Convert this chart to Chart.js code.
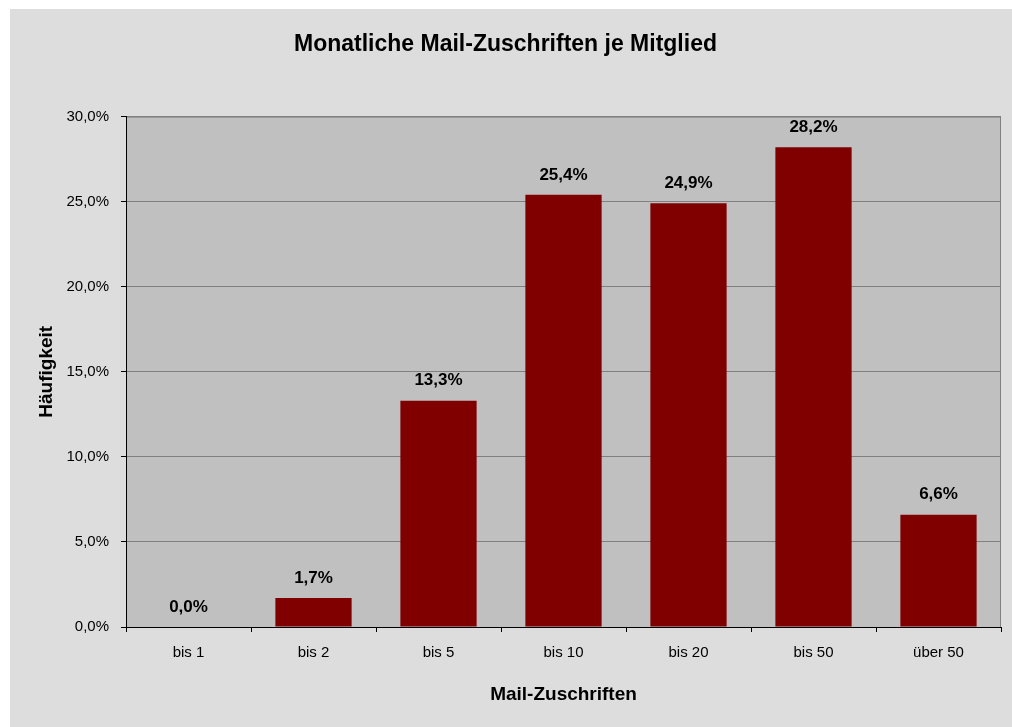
<!DOCTYPE html>
<html>
<head>
<meta charset="utf-8">
<title>Monatliche Mail-Zuschriften je Mitglied</title>
<script src="https://cdn.jsdelivr.net/npm/chart.js@4/dist/chart.umd.min.js"></script>
<style>
  html, body { margin: 0; padding: 0; background: #fff; }
  #wrap { width: 1012px; height: 727px; }
</style>
</head>
<body>
<div id="wrap"><canvas id="chart" width="1012" height="727"></canvas></div>
<script>
// data
const categories = ['bis 1', 'bis 2', 'bis 5', 'bis 10', 'bis 20', 'bis 50', 'über 50'];
const shares = [0.0, 1.7, 13.3, 25.4, 24.9, 28.2, 6.6];
const yTicks = [0, 5, 10, 15, 20, 25, 30];

const FONT = "'Liberation Sans Narrow', 'Arial Narrow', 'Liberation Sans', Arial, sans-serif";
const fmt = v => Number(v).toFixed(1).replace('.', ',') + '%';

// grey frame + plot area
const backdrop = {
  id: 'backdrop',
  beforeDraw(chart) {
    const { ctx, chartArea: a } = chart;
    ctx.save();
    ctx.fillStyle = '#dddddd';
    ctx.fillRect(10, 9, chart.width - 10, chart.height - 9);
    ctx.fillStyle = '#c0c0c0';
    ctx.fillRect(a.left, a.top, a.right - a.left, a.bottom - a.top);
    ctx.strokeStyle = '#808080';
    ctx.lineWidth = 1;
    ctx.strokeRect(a.left + 0.5, a.top + 0.5, a.right - a.left - 1, a.bottom - a.top);
    ctx.restore();
  }
};

// values above the bars
const valueLabels = {
  id: 'valueLabels',
  afterDatasetsDraw(chart) {
    const { ctx } = chart;
    const meta = chart.getDatasetMeta(0);
    ctx.save();
    ctx.font = 'bold 17px ' + FONT;
    ctx.fillStyle = '#000';
    ctx.textAlign = 'center';
    ctx.textBaseline = 'middle';
    meta.data.forEach((bar, i) => {
      ctx.fillText(fmt(shares[i]), bar.x, bar.y - 20);
    });
    ctx.restore();
  }
};

new Chart(document.getElementById('chart'), {
  type: 'bar',
  data: {
    labels: categories,
    datasets: [{
      data: shares,
      backgroundColor: '#800000',
      borderWidth: 0,
      barPercentage: 0.61,
      categoryPercentage: 1
    }]
  },
  options: {
    responsive: false,
    animation: false,
    layout: { padding: { left: 10, top: 9, right: 11, bottom: 0 } },
    plugins: {
      legend: { display: false },
      tooltip: { enabled: false },
      title: {
        display: true,
        text: 'Monatliche Mail-Zuschriften je Mitglied',
        color: '#000',
        font: { family: FONT, size: 23, weight: 'bold' },
        padding: { top: 22, bottom: 58 }
      }
    },
    scales: {
      x: {
        grid: { offset: true, drawOnChartArea: false, tickLength: 5, tickColor: '#000' },
        border: { color: '#000', width: 1 },
        ticks: { color: '#000', padding: 12, font: { family: FONT, size: 15 } },
        title: {
          display: true,
          text: 'Mail-Zuschriften',
          color: '#000',
          font: { family: FONT, size: 19, weight: 'bold' },
          padding: { top: 0, bottom: 21 }
        },
        afterFit(scale) { scale.height = 100; }
      },
      y: {
        min: 0,
        max: 30,
        afterBuildTicks(scale) { scale.ticks = yTicks.map(v => ({ value: v })); },
        grid: { color: '#808080', tickLength: 5, tickColor: '#000' },
        border: { color: '#000', width: 1 },
        ticks: { color: '#000', padding: 12, font: { family: FONT, size: 15 }, callback: v => fmt(v) },
        title: {
          display: true,
          text: 'Häufigkeit',
          color: '#000',
          font: { family: FONT, size: 19, weight: 'bold' },
          padding: { top: 25, bottom: 0 }
        },
        afterFit(scale) { scale.width = 116; }
      }
    }
  },
  plugins: [backdrop, valueLabels]
});
</script>
</body>
</html>
